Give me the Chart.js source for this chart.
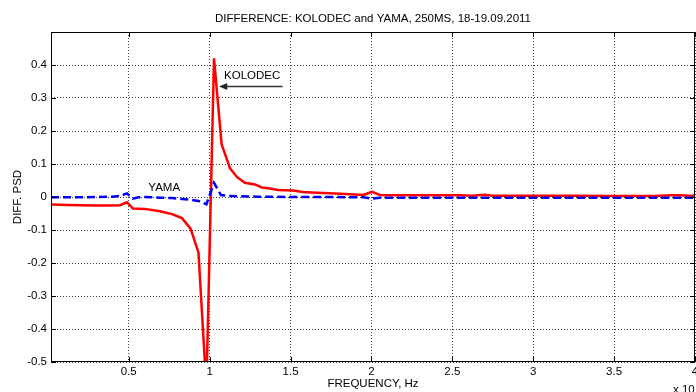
<!DOCTYPE html>
<html><head><meta charset="utf-8">
<script src="https://cdn.jsdelivr.net/npm/chart.js@4.4.1/dist/chart.umd.min.js"></script>
<style>html,body{margin:0;padding:0;background:#fff;overflow:hidden}</style>
</head><body>
<canvas id="c" width="696" height="392"></canvas>
<script>
// ---- data ----
const chartTitle = 'DIFFERENCE: KOLODEC and YAMA, 250MS, 18-19.09.2011';
const xAxisTitle = 'FREQUENCY, Hz';
const yAxisTitle = 'DIFF. PSD';
const xScaleNote = 'x 10';

const kolodecFreq = [0.0195,0.12,0.2,0.29,0.37,0.446,0.489,0.526,0.60,0.693,0.767,0.829,0.882,0.931,0.98,1.027,1.074,1.126,1.17,1.218,1.28,1.322,1.373,1.422,1.515,1.577,1.66,1.744,1.867,1.95,2.003,2.053,2.15,2.3,2.45,2.55,2.62,2.70,2.75,2.9,3.1,3.3,3.45,3.6,3.75,3.85,3.9,3.97,4.0];
const kolodecDiff = [-0.023,-0.024,-0.025,-0.026,-0.026,-0.025,-0.016,-0.035,-0.036,-0.043,-0.052,-0.064,-0.096,-0.168,-0.58,0.42,0.16,0.087,0.06,0.043,0.038,0.029,0.026,0.021,0.02,0.015,0.013,0.011,0.008,0.006,0.016,0.006,0.005,0.005,0.005,0.005,0.004,0.007,0.004,0.004,0.004,0.004,0.003,0.003,0.003,0.005,0.005,0.004,0.004];

const yamaFreq = [0.0195,0.15,0.3,0.40,0.446,0.489,0.526,0.56,0.60,0.693,0.767,0.829,0.882,0.931,0.98,1.027,1.07,1.12,1.3,1.5,1.7,1.95,2.003,2.05,2.3,2.6,3.0,3.4,3.8,4.0];
const yamaDiff = [-0.001,-0.001,0.0,0.001,0.003,0.011,-0.005,-0.001,0.0,-0.002,-0.003,-0.006,-0.008,-0.012,-0.022,0.043,0.006,0.003,0.001,0.0,0.0,-0.001,-0.005,-0.002,-0.002,-0.002,-0.002,-0.002,-0.002,-0.002];

const xTickValues = [0.5,1,1.5,2,2.5,3,3.5,4];
const yTickValues = [-0.5,-0.4,-0.3,-0.2,-0.1,0,0.1,0.2,0.3,0.4,0.5];
const yTickHidden = [0.5];

// annotations in data coordinates
const kolodecLabel = {text:'KOLODEC', x:1.089, y:0.368};
const kolodecArrow = {x0:1.451, x1:1.059, y:0.336};
const yamaLabel = {text:'YAMA', x:0.621, y:0.028};

const FONT = '"Liberation Sans", Arial, Helvetica, sans-serif';
const FS = 11.5;

function pairs(xs, ys){ return xs.map((v,i)=>({x:v,y:ys[i]})); }

const boxPlugin = {
  id:'boxAndNotes',
  afterDraw(chart){
    const {ctx, chartArea:{left,right,top,bottom}, scales:{x,y}} = chart;
    ctx.save();
    ctx.strokeStyle = '#000'; ctx.lineWidth = 1;
    ctx.beginPath();
    xTickValues.forEach(v=>{
      const px = Math.round(x.getPixelForValue(v)) + 0.5;
      ctx.moveTo(px, bottom); ctx.lineTo(px, bottom-5);
      ctx.moveTo(px, top); ctx.lineTo(px, top+5);
    });
    yTickValues.forEach(v=>{
      const py = Math.round(y.getPixelForValue(v)) + 0.5;
      ctx.moveTo(left, py); ctx.lineTo(left+5, py);
      ctx.moveTo(right, py); ctx.lineTo(right-5, py);
    });
    ctx.stroke();
    ctx.strokeRect(left+0.5, top+0.5, right-left-1, bottom-top-1);

    // annotations
    ctx.fillStyle = '#000';
    ctx.font = FS + 'px ' + FONT;
    ctx.textAlign = 'left'; ctx.textBaseline = 'middle';
    ctx.fillText(kolodecLabel.text, x.getPixelForValue(kolodecLabel.x), y.getPixelForValue(kolodecLabel.y));
    ctx.fillText(yamaLabel.text, x.getPixelForValue(yamaLabel.x), y.getPixelForValue(yamaLabel.y));
    const ax0 = x.getPixelForValue(kolodecArrow.x0), ax1 = x.getPixelForValue(kolodecArrow.x1);
    const ay = Math.round(y.getPixelForValue(kolodecArrow.y)) + 0.5;
    ctx.strokeStyle = '#333'; ctx.lineWidth = 1.5;
    ctx.beginPath(); ctx.moveTo(ax0, ay); ctx.lineTo(ax1+5, ay); ctx.stroke();
    ctx.fillStyle = '#222';
    ctx.beginPath(); ctx.moveTo(ax1, ay); ctx.lineTo(ax1+8, ay-3.5); ctx.lineTo(ax1+8, ay+3.5); ctx.closePath(); ctx.fill();

    // exponent note at bottom right
    ctx.fillStyle = '#000';
    ctx.font = FS + 'px ' + FONT;
    ctx.textAlign = 'left'; ctx.textBaseline = 'middle';
    ctx.fillText(xScaleNote, 673, 390);
    ctx.restore();
  }
};

Chart.defaults.color = '#000';
Chart.defaults.font.family = FONT;
Chart.defaults.font.size = FS;

new Chart(document.getElementById('c'), {
  type:'line',
  data:{
    datasets:[
      {label:'YAMA', data:pairs(yamaFreq, yamaDiff), borderColor:'#0000ff', borderWidth:2.5, borderDash:[8,4], pointRadius:0, tension:0, fill:false},
      {label:'KOLODEC', data:pairs(kolodecFreq, kolodecDiff), borderColor:'#ff0000', borderWidth:2.5, pointRadius:0, tension:0, fill:false}
    ]
  },
  options:{
    responsive:false, animation:false, devicePixelRatio:1,
    layout:{padding:{left:0,right:1,top:0,bottom:0}, autoPadding:false},
    plugins:{
      legend:{display:false}, tooltip:{enabled:false},
      title:{display:true, text:chartTitle, fullSize:false, color:'#000',
        font:{size:FS, weight:'normal', family:FONT}, padding:{top:12,bottom:6.2}}
    },
    scales:{
      x:{type:'linear', min:0.0195, max:4,
        afterBuildTicks:s=>{ s.ticks = xTickValues.map(v=>({value:v})); },
        afterFit:s=>{ s.height = 30; s.paddingLeft=0; s.paddingRight=0; },
        ticks:{autoSkip:false, maxRotation:0, padding:3, callback:v=>String(v), font:{size:FS}},
        grid:{color:'rgba(0,0,0,0.75)', lineWidth:1, drawTicks:false},
        border:{display:false, dash:[1,2]},
        title:{display:true, text:xAxisTitle, font:{size:FS}, padding:{top:0,bottom:1}}
      },
      y:{type:'linear', min:-0.5, max:0.5,
        afterBuildTicks:s=>{ s.ticks = yTickValues.map(v=>({value:v})); },
        afterFit:s=>{ s.width = 51; s.paddingTop=0; s.paddingBottom=0; },
        ticks:{autoSkip:false, padding:4, font:{size:FS},
          callback:v=>{ if (yTickHidden.some(h=>Math.abs(h-v)<1e-9)) return ''; const r=Math.round(v*10)/10; return r===0?'0':String(r); }},
        grid:{color:'rgba(0,0,0,0.75)', lineWidth:1, drawTicks:false},
        border:{display:false, dash:[1,2]},
        title:{display:true, text:yAxisTitle, font:{size:FS}, padding:{top:11,bottom:0}}
      }
    }
  },
  plugins:[boxPlugin]
});
</script>
</body></html>
